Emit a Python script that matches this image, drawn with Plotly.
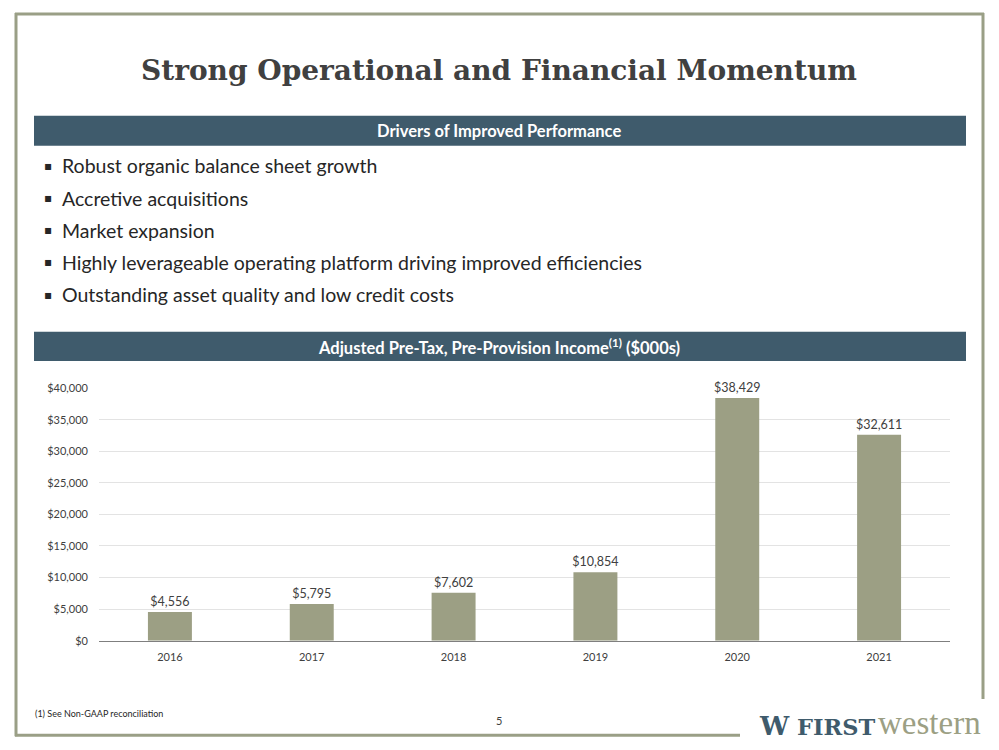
import plotly.graph_objects as go

years = ["2016", "2017", "2018", "2019", "2020", "2021"]
income = [4556, 5795, 7602, 10854, 38429, 32611]
labels = ["$4,556", "$5,795", "$7,602", "$10,854", "$38,429", "$32,611"]
tick_vals = [0, 5000, 10000, 15000, 20000, 25000, 30000, 35000, 40000]
tick_text = ["$0", "$5,000", "$10,000", "$15,000", "$20,000", "$25,000", "$30,000", "$35,000", "$40,000"]
bullets = [
    "Robust organic balance sheet growth",
    "Accretive acquisitions",
    "Market expansion",
    "Highly leverageable operating platform driving improved efficiencies",
    "Outstanding asset quality and low credit costs",
]

W, H = 999, 750
def px(x):
    return x / W
def py(t):
    # target photo pixel -> paper fraction (compensates the measured vertical mapping)
    y = (t - 9) / 0.977
    return 1 - y / H

HDR = "#3F5B6C"
FRAME = "#9A9F86"
BAR = "#9C9F84"
FONT = "Lato, 'Open Sans', sans-serif"

fig = go.Figure()
fig.add_trace(go.Bar(
    x=years, y=income, text=labels, textposition="outside",
    marker=dict(color=BAR, line=dict(width=0)),
    width=0.31, cliponaxis=False, constraintext="none",
    textfont=dict(family=FONT, size=12.5, color="#404040"),
    hoverinfo="skip",
))

shapes = []
# frame
shapes.append(dict(type="line", xref="paper", yref="paper", x0=px(15), x1=px(984), y0=py(16), y1=py(16), line=dict(color=FRAME, width=3)))
shapes.append(dict(type="line", xref="paper", yref="paper", x0=px(16), x1=px(16), y0=py(15), y1=py(734), line=dict(color=FRAME, width=3)))
shapes.append(dict(type="line", xref="paper", yref="paper", x0=px(983), x1=px(983), y0=py(15), y1=py(697), line=dict(color=FRAME, width=3)))
shapes.append(dict(type="line", xref="paper", yref="paper", x0=px(15), x1=px(740), y0=py(733), y1=py(733), line=dict(color=FRAME, width=3)))
# header bars
shapes.append(dict(type="rect", xref="paper", yref="paper", x0=px(34), x1=px(966), y0=py(117), y1=py(147), fillcolor=HDR, line=dict(width=0), layer="below"))
shapes.append(dict(type="rect", xref="paper", yref="paper", x0=px(34), x1=px(966), y0=py(332), y1=py(361), fillcolor=HDR, line=dict(width=0), layer="below"))

ann = []
ann.append(dict(text="<b>Strong Operational and Financial Momentum</b>", x=px(499), y=py(72), xref="paper", yref="paper",
                showarrow=False, xanchor="center", yanchor="middle",
                font=dict(family="'DejaVu Serif', 'Liberation Serif', serif", size=28, color="#404040")))
ann.append(dict(text="<b>Drivers of Improved Performance</b>", x=px(499), y=py(132), xref="paper", yref="paper",
                showarrow=False, xanchor="center", yanchor="middle", font=dict(family=FONT, size=16.5, color="white")))
ann.append(dict(text="<b>Adjusted Pre-Tax, Pre-Provision Income<sup>(1)</sup> ($000s)</b>", x=px(499), y=py(347), xref="paper", yref="paper",
                showarrow=False, xanchor="center", yanchor="middle", font=dict(family=FONT, size=16.5, color="white")))
for i, b in enumerate(bullets):
    yy = 167 + 32 * i
    ann.append(dict(text="▪", x=px(42), y=py(yy), xref="paper", yref="paper", showarrow=False,
                    xanchor="left", yanchor="middle", font=dict(family="'DejaVu Sans', sans-serif", size=12, color="#262626")))
    ann.append(dict(text=b, x=px(60), y=py(yy), xref="paper", yref="paper", showarrow=False,
                    xanchor="left", yanchor="middle", font=dict(family=FONT, size=19.5, color="#262626")))
ann.append(dict(text="(1) See Non-GAAP reconciliation", x=px(33), y=py(711), xref="paper", yref="paper", showarrow=False,
                xanchor="left", yanchor="middle", font=dict(family=FONT, size=9, color="#262626")))
ann.append(dict(text="5", x=px(499), y=py(718), xref="paper", yref="paper", showarrow=False,
                xanchor="center", yanchor="middle", font=dict(family=FONT, size=11, color="#404040")))
ann.append(dict(text="<b>W</b>", x=px(757), y=py(724), xref="paper", yref="paper", showarrow=False,
                xanchor="left", yanchor="middle", font=dict(family="'DejaVu Serif', serif", size=26, color="#3F5B6C")))
ann.append(dict(text="<b>FIRST</b>", x=px(795), y=py(725), xref="paper", yref="paper", showarrow=False,
                xanchor="left", yanchor="middle", font=dict(family="'DejaVu Serif', serif", size=22.5, color="#3F5B6C")))
ann.append(dict(text="western", x=px(876), y=py(721), xref="paper", yref="paper", showarrow=False,
                xanchor="left", yanchor="middle", font=dict(family="'Liberation Serif', 'DejaVu Serif', serif", size=33, color="#9C9F84")))

fig.update_layout(
    width=W, height=H,
    margin=dict(l=0, r=0, t=0, b=0),
    paper_bgcolor="white", plot_bgcolor="white",
    showlegend=False,
    shapes=shapes, annotations=ann,
    xaxis=dict(domain=[px(99), px(950)], type="category",
               showline=True, linecolor="#7F7F7F", linewidth=1, ticks="",
               tickfont=dict(family=FONT, size=11, color="#404040"), ticklabelstandoff=6, fixedrange=True),
    yaxis=dict(domain=[py(639), py(388)], range=[0, 40000], tickvals=tick_vals, ticktext=tick_text,
               showgrid=True, gridcolor="#E3E3E3", gridwidth=1, zeroline=False, showline=False,
               tickfont=dict(family=FONT, size=11, color="#404040"), ticklabelstandoff=10, fixedrange=True),
)

fig.write_html("out.html", config={"displayModeBar": False},
               post_script="document.body.style.margin='0';document.body.style.overflow='hidden';")
